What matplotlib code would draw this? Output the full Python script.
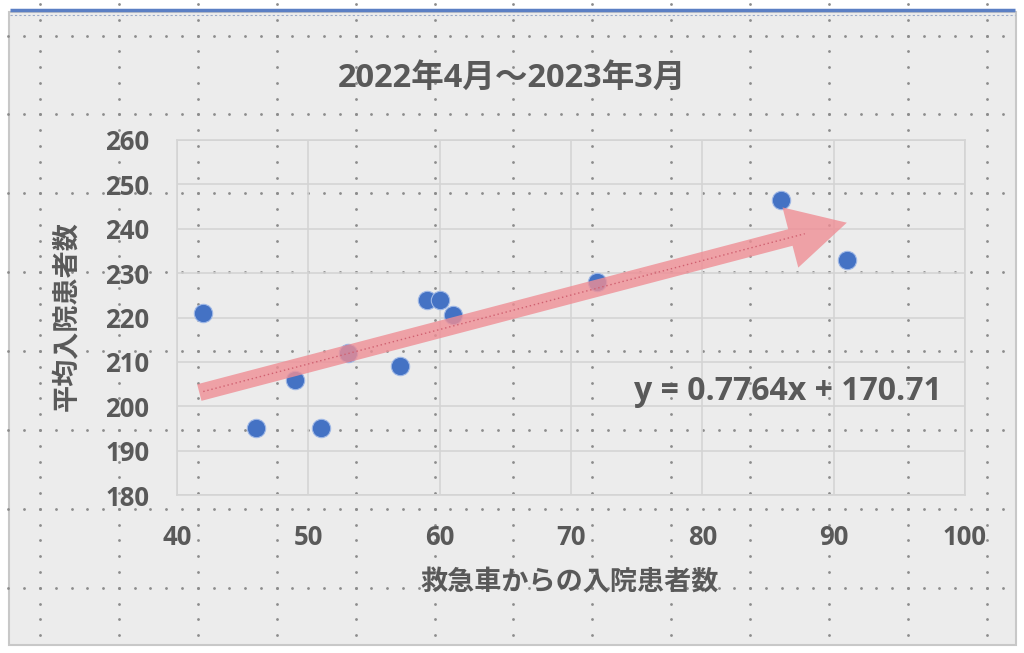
import numpy as np
import matplotlib
matplotlib.use('Agg')
from matplotlib import pyplot as plt

plt.rcParams['font.family'] = ['Open Sans', 'Noto Sans CJK JP', 'DejaVu Sans']

# data
ambulance = [42, 46, 49, 51, 53, 57, 59, 60, 61, 72, 86, 91]
inpatients = [221, 195, 206, 195, 212, 209, 224, 224, 220.5, 228, 246.5, 233]
slope, intercept = 0.7764, 170.71

title = "2022年4月～2023年3月"
xlabel = "救急車からの入院患者数"
ylabel = "平均入院患者数"
xticks = [40, 50, 60, 70, 80, 90, 100]
yticks = [180, 190, 200, 210, 220, 230, 240, 250, 260]

W, H = 1024, 653
txt = '#595959'
bg = '#ececec'

fig = plt.figure(figsize=(W / 100, H / 100), dpi=100)
fig.patch.set_facecolor('white')

# background layer in pixel coords: chart frame + drawing-grid dots
bga = fig.add_axes([0, 0, 1, 1], zorder=0)
bga.set_xlim(0, W)
bga.set_ylim(H, 0)
bga.axis('off')
bga.add_patch(plt.Rectangle((9, 12), 1007, 633, facecolor=bg, edgecolor='#c8c8c8', lw=1.5))
bga.plot([10, 1015], [10, 10], color='#5b7fc4', lw=2.5, solid_capstyle='butt')
bga.plot([10, 1015], [15, 15], color='#9aa9c8', lw=0.8, ls=(0, (2, 2)))

step = 78.9
vlines = 40 + step * np.arange(13)
hlines = 35.5 + step * np.arange(8)
dot = step / 5
for xv in vlines:
    ys = np.arange(hlines[0] - 2 * dot, 640, dot)
    bga.plot(np.full_like(ys, xv), ys, ls='none', marker='o', ms=2.0, color='#8c8c8c', mew=0)
for yv in hlines:
    xs = np.arange(vlines[0] - 2 * dot, 1010, dot)
    bga.plot(xs, np.full_like(xs, yv), ls='none', marker='o', ms=2.0, color='#8c8c8c', mew=0)

# plot area
left, right, top, bottom = 177, 965, 140, 495
ax = fig.add_axes([left / W, 1 - bottom / H, (right - left) / W, (bottom - top) / H], zorder=1)
ax.patch.set_alpha(0)
ax.set_xlim(40, 100)
ax.set_ylim(180, 260)
ax.set_xticks(xticks)
ax.set_yticks(yticks)
ax.grid(True, color='#d4d4d4', lw=1.2)
ax.set_axisbelow(True)
for s in ax.spines.values():
    s.set_color('#d4d4d4')
    s.set_linewidth(1.2)
ax.tick_params(length=0, labelsize=18.5, labelcolor=txt)
ax.tick_params(axis='y', pad=20)
ax.tick_params(axis='x', pad=21)
for lab in ax.get_xticklabels() + ax.get_yticklabels():
    lab.set_fontweight('bold')

ax.scatter(ambulance, inpatients, s=175, color='#4472c4', edgecolors='#9fb8e6', linewidths=0.8, zorder=3)

# trend arrow
x0, x1 = min(ambulance), max(ambulance)
ax.annotate('', xy=(x1, slope * x1 + intercept), xytext=(x0 - 0.3, slope * (x0 - 0.3) + intercept),
            arrowprops=dict(arrowstyle='simple,head_length=1.5,head_width=1.6,tail_width=0.44',
                            color='#ef8e95', alpha=0.8, lw=0, shrinkA=0, shrinkB=0,
                            mutation_scale=28),
            zorder=4)
xe = x1 - 3.2
ax.plot([x0, xe], [slope * x0 + intercept, slope * xe + intercept], color='#d06070', lw=1.0,
        ls=(0, (1, 2)), zorder=5)

ax.text(86.5, 203.4, "y = 0.7764x + 170.71", fontsize=23, fontweight='bold', color=txt,
        ha='center', va='center', zorder=6)

fig.text(512 / W, 1 - 78 / H, title, fontsize=23.5, fontweight='bold', color=txt, ha='center', va='center')
fig.text(570 / W, 1 - 583 / H, xlabel, fontsize=19.5, fontweight='bold', color=txt, ha='center', va='center')
fig.text(68 / W, 1 - 316 / H, ylabel, fontsize=19.5, fontweight='bold', color=txt, ha='center', va='center',
         rotation=90)

fig.savefig('out.png', dpi=100, facecolor='white')
